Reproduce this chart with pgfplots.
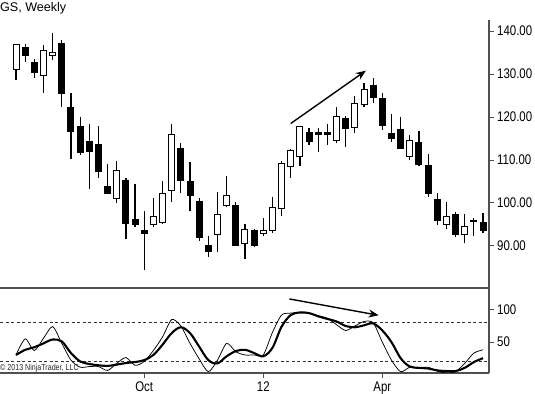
\documentclass[border=0pt]{standalone}
\usepackage{pgfplots}
\pgfplotsset{compat=1.18}
\usepackage{pgfplotstable}
\usepackage{fontspec}
\setmainfont{Liberation Sans}
\newfontfamily\narrowfont{Liberation Sans}[FakeStretch=0.82]
\usetikzlibrary{arrows.meta}
\definecolor{axisgray}{RGB}{80,80,80}

\pgfplotstableread{
i o h l c
0 131.0 137.0 128.6 136.9
1 136.1 136.9 132.9 134.3
2 132.7 133.6 129.2 130.4
3 129.7 136.7 125.7 135.6
4 134.4 139.6 133.4 135.0
5 137.1 137.9 122.4 125.5
6 122.3 125.5 110.2 116.7
7 117.7 119.9 111.2 111.8
8 114.3 118.4 103.3 111.9
9 113.7 117.9 105.7 107.3
10 103.8 109.0 102.1 102.3
11 101.1 109.8 99.9 107.6
12 105.3 105.7 91.6 95.3
13 96.2 104.3 94.3 94.9
14 93.7 98.2 84.3 92.8
15 94.9 101.1 94.3 96.8
16 95.4 105.2 95.1 102.1
17 102.8 118.5 100.3 116.0
18 112.6 114.0 102.3 105.2
19 105.0 109.6 98.2 101.7
20 100.3 101.1 91.2 92.0
21 90.0 92.3 87.5 88.8
22 92.7 102.6 88.5 97.4
23 99.5 106.3 99.1 101.7
24 99.4 100.2 90.0 90.2
25 90.6 95.1 86.9 93.8
26 93.5 93.9 89.8 90.1
27 92.9 96.4 92.4 93.6
28 93.5 101.5 93.0 99.0
29 98.8 109.8 97.0 109.1
30 108.6 112.5 105.9 112.1
31 110.8 117.9 108.7 117.7
32 116.4 117.5 113.5 114.3
33 116.35 117.5 111.8 116.0
34 116.35 118.5 113.5 115.9
35 114.5 122.4 113.9 120.2
36 119.7 120.2 113.1 117.4
37 117.5 124.9 116.4 123.1
38 123.0 128.0 122.3 126.4
39 127.4 129.0 123.3 124.6
40 124.3 125.5 117.1 118.1
41 116.2 120.6 114.3 115.0
42 117.2 119.9 112.6 112.6
43 110.8 115.8 110.0 114.5
44 114.1 116.7 108.6 109.0
45 108.7 111.3 101.5 102.3
46 100.7 102.3 94.9 95.8
47 94.9 100.2 93.9 96.8
48 97.4 97.8 92.0 92.7
49 92.7 97.4 90.6 94.5
50 96.0 96.4 92.2 95.7
51 95.4 97.6 93.1 93.7
}\candles

\pgfplotstableread{
i k d
0 30 30
1 55 38
2 37 42
3 56 48
4 74 54
5 48 51
6 22 33
7 11 20
8 12 16
9 12 14
10 6 13
11 17 15
12 26 17.5
13 14 19
14 20 22
15 37 30
16 58 46
17 85 64
18 75 73
19 48 64
20 24 43
21 4 22
22 22 17
23 48 28
24 35 36
25 30 38
26 30 33
27 30 28
28 65 41
29 92 74
30 95 92
31 96 96
32 95 95
33 91 90
34 87 86
35 77 82
36 68 75
37 75 73
38 82 76
39 80 79
40 50 68
41 22 50
42 4 25
43 11 12
44 10 10
45 11 9
46 5 6
47 2 5
48 4 5
49 17 10
50 33 19
51 38 25
}\stoch

\pgfplotsset{
  panel/.style={
    scale only axis, width=489bp,
    xmin=-1.75, xmax=51.65,
    axis x line=bottom, axis y line=right,
    axis line style={-, axisgray, line width=1.5bp},
    tick align=outside, major tick length=5bp,
    tick style={axisgray, line width=1bp},
    /pgf/number format/assume math mode=true,
    ticklabel style={font=\narrowfont\fontsize{14}{14}\selectfont, text=black},
    yticklabel style={anchor=west, inner sep=0pt, xshift=3bp},
  }
}

\begin{document}
\begin{tikzpicture}
\path[use as bounding box] (0bp,0bp) rectangle (535bp,394bp);
% main panel: wicks
\begin{axis}[panel, at={(0bp,106bp)}, anchor=south west, height=268bp,
  ymin=80.2, ymax=142.6, xtick=\empty,
  ytick={90,100,110,120,130,140},
  y tick label style={/pgf/number format/.cd, fixed, fixed zerofill, precision=2, /tikz/.cd},
]
\addplot[only marks, mark=*, mark size=0pt, mark options={draw=none, fill=none},
  error bars/.cd, y dir=plus, y explicit, error mark=none,
  error bar style={black, line width=1.2bp}]
  table[x=i, y=l, y error plus expr=\thisrow{h}-\thisrow{l}] {\candles};
\end{axis}
% main panel: bodies
\begin{axis}[at={(0bp,106bp)}, anchor=south west, scale only axis, width=489bp, height=268bp,
  xmin=-1.75, xmax=51.65, ymin=80.2, ymax=142.6, hide axis,
  ybar stacked, bar width=6bp]
\addplot[draw=none, fill=none] table[x=i, y expr={min(\thisrow{o},\thisrow{c})}] {\candles};
\addplot[draw=black, fill=white, line width=1bp] table[x=i, y expr={max(\thisrow{c}-\thisrow{o},0)}] {\candles};
\addplot[draw=black, fill=black, line width=1bp] table[x=i, y expr={max(\thisrow{o}-\thisrow{c},0)}] {\candles};
\draw[-{Stealth[length=10bp,width=8bp]}, line width=1.4bp] (axis cs:30.0,118.5) -- (axis cs:38.2,130.8);
\end{axis}
% title
\node[anchor=north west, inner sep=0pt, font=\fontsize{12.6}{13}\selectfont] at (0bp,392bp) {GS, Weekly};
% lower panel
\begin{axis}[panel, at={(0bp,21bp)}, anchor=south west, height=85bp,
  ymin=2, ymax=134,
  xtick={14,27,40}, xticklabels={Oct,12,Apr},
  ytick={50,100},
  xticklabel style={anchor=north, inner sep=0pt, yshift=-4bp},
]
\addplot[black!80, line width=1.2bp, dash pattern=on 3bp off 2.5bp] coordinates {(-1.75,80) (51.65,80)};
\addplot[black!80, line width=1.2bp, dash pattern=on 3bp off 2.5bp] coordinates {(-1.75,20) (51.65,20)};
\addplot[black, line width=0.75bp, smooth, tension=0.45] table[x=i, y=k] {\stoch};
\addplot[black, line width=2.1bp, smooth, tension=0.55] table[x=i, y=d] {\stoch};
\draw[-{Stealth[length=10bp,width=8bp]}, line width=1.4bp] (axis cs:29.85,117) -- (axis cs:39.6,91.6);
\node[anchor=west, inner sep=0pt, font=\narrowfont\fontsize{8.7}{9}\selectfont, text=black!85] at (axis cs:-1.75,10) {© 2013 NinjaTrader, LLC};
\end{axis}
\end{tikzpicture}
\end{document}
